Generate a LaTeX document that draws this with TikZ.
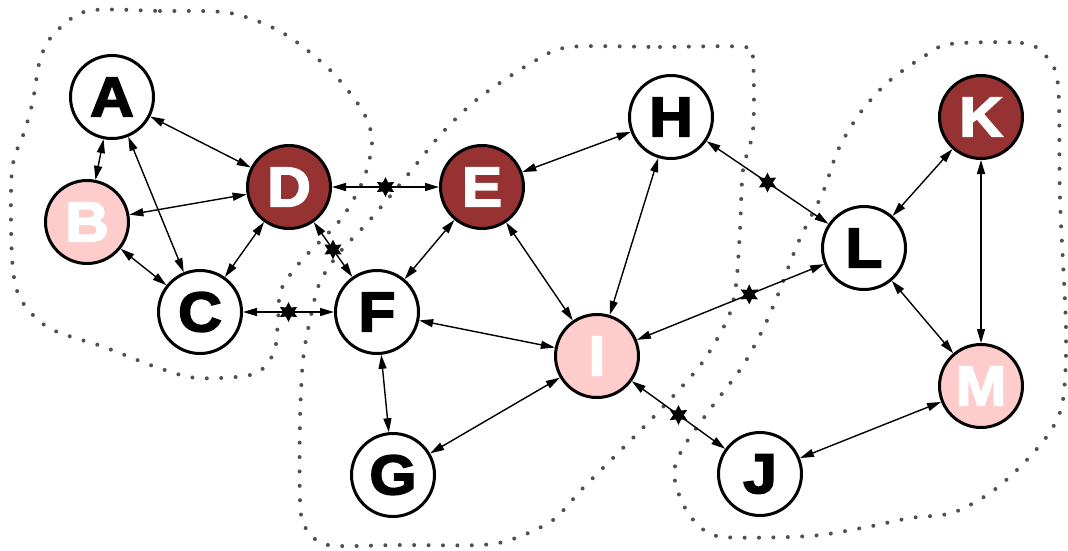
\documentclass[tikz,border=0pt]{standalone}
\usepackage{fontspec}
\usetikzlibrary{arrows.meta,shapes.geometric}
\newfontfamily\lab{Liberation Sans Bold}[FakeBold=3,FakeStretch=1.08]
\definecolor{maroon}{RGB}{150,50,50}
\definecolor{blush}{RGB}{255,204,204}
\definecolor{dotgray}{RGB}{80,80,80}
\tikzset{
  vtx/.style={circle, draw=black, line width=3pt, minimum size=83pt, inner sep=0pt,
              font=\lab\fontsize{56}{56}\selectfont},
  plain/.style={vtx, fill=white, text=black},
  hub/.style={vtx, fill=maroon, text=white},
  soft/.style={vtx, fill=blush, text=white},
  link/.style={line width=1.4pt,
               {Triangle[length=14pt,width=8pt]}-{Triangle[length=14pt,width=8pt]}},
  ast/.style={star, star points=6, star point ratio=1.9, fill=black, draw=none,
              inner sep=0pt, minimum size=20pt},
  region/.style={draw=dotgray, line width=4pt, line cap=round,
                 dash pattern=on 0pt off 14.4pt}
}
\begin{document}
\begin{tikzpicture}[x=1pt, y=-1pt]
\useasboundingbox (0,0) rectangle (1068,550);

% dotted community outlines
\draw[region] plot[smooth cycle, tension=0.5] coordinates {
  (87,11) (160,11) (230,13) (283,33) (330,70) (362,110) (372,140) (364,178)
  (341,219) (301,261) (281,290) (278,320) (274,352) (254,374) (197,378)
  (156,367) (104,347) (49,328) (20,298) (12,257) (12,170) (25,130) (33,100)
  (40,60) (53,35)};
\draw[region] plot[smooth cycle, tension=0.5] coordinates {
  (570,47) (660,47) (745,47) (753,60) (753,130) (743,170) (740,230) (736,285)
  (728,318) (702,363) (663,407) (623,448) (583,488) (553,520) (513,539)
  (480,545) (400,545) (328,545) (305,527) (300,500) (300,420) (303,360)
  (310,320) (320,282) (340,252) (369,221) (406,177) (442,133) (480,97) (533,62)};
\draw[region] plot[smooth cycle, tension=0.5] coordinates {
  (950,44) (1022,43) (1045,55) (1058,85) (1060,200) (1066,330) (1063,400)
  (1050,432) (1022,465) (990,493) (952,513) (910,518) (867,527) (810,536)
  (723,537) (698,525) (682,502) (674,473) (683,448) (708,412) (742,367)
  (763,329) (777,297) (798,243) (823,192) (838,150) (860,113) (888,82) (923,57)};

% vertices
\node[plain] (A) at (112,97)  {A};
\node[soft]  (B) at (87,222)  {B};
\node[plain] (C) at (200,312) {C};
\node[hub]   (D) at (289,187) {D};
\node[hub]   (E) at (482,187) {E};
\node[plain] (F) at (377,312) {F};
\node[plain] (G) at (393,475) {G};
\node[plain] (H) at (671,117) {H};
\node[soft]  (I) at (597,356) {I};
\node[plain] (J) at (760,474) {J};
\node[hub]   (K) at (981,117) {K};
\node[plain] (L) at (864,248) {L};
\node[soft]  (M) at (981,386) {M};

% links
\draw[link] (A) -- (D);
\draw[link] (A) -- (B);
\draw[link] (A) -- (C);
\draw[link] (B) -- (D);
\draw[link] (B) -- (C);
\draw[link] (C) -- (D);
\draw[link] (C) -- node[ast]{} (F);
\draw[link] (D) -- node[ast]{} (E);
\draw[link] (D) -- node[ast]{} (F);
\draw[link] (E) -- (F);
\draw[link] (E) -- (H);
\draw[link] (E) -- (I);
\draw[link] (F) -- (I);
\draw[link] (F) -- (G);
\draw[link] (G) -- (I);
\draw[link] (H) -- (I);
\draw[link] (H) -- node[ast]{} (L);
\draw[link] (I) -- node[ast, pos=0.6]{} (L);
\draw[link] (I) -- node[ast]{} (J);
\draw[link] (J) -- (M);
\draw[link] (L) -- (M);
\draw[link] (L) -- (K);
\draw[link] (K) -- (M);
\end{tikzpicture}
\end{document}
